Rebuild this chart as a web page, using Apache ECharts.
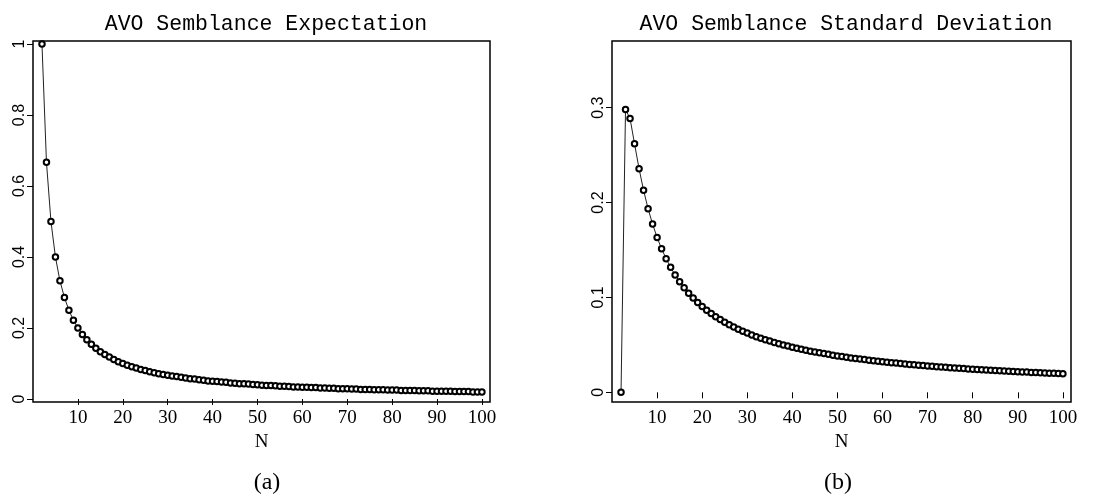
<!DOCTYPE html>
<html>
<head>
<meta charset="utf-8">
<script src="https://cdn.jsdelivr.net/npm/echarts@6/dist/echarts.min.js"></script>
<style>
html,body{margin:0;padding:0;background:#fff;}
#c{width:1109px;height:498px;}
</style>
</head>
<body>
<div id="c"></div>
<script>
// Sample sizes N
const N = [2,3,4,5,6,7,8,9,10,11,12,13,14,15,16,17,18,19,20,21,22,23,24,25,26,27,28,29,30,
31,32,33,34,35,36,37,38,39,40,41,42,43,44,45,46,47,48,49,50,51,52,53,54,55,56,57,58,59,60,
61,62,63,64,65,66,67,68,69,70,71,72,73,74,75,76,77,78,79,80,81,82,83,84,85,86,87,88,89,90,
91,92,93,94,95,96,97,98,99,100];

// AVO semblance expectation (panel a)
const expectation = [1.000,0.667,0.500,0.400,0.333,0.286,0.250,0.222,0.200,0.182,0.167,0.154,0.143,0.133,0.125,0.118,0.111,0.105,0.100,
0.095,0.091,0.087,0.083,0.080,0.077,0.074,0.071,0.069,0.067,0.065,0.063,0.061,0.059,0.057,0.056,0.054,0.053,0.051,0.050,
0.049,0.048,0.047,0.045,0.044,0.043,0.043,0.042,0.041,0.040,0.039,0.038,0.038,0.037,0.036,0.036,0.035,0.034,0.034,0.033,
0.033,0.032,0.032,0.031,0.031,0.030,0.030,0.029,0.029,0.029,0.028,0.028,0.027,0.027,0.027,0.026,0.026,0.026,0.025,0.025,
0.025,0.024,0.024,0.024,0.024,0.023,0.023,0.023,0.022,0.022,0.022,0.022,0.022,0.021,0.021,0.021,0.021,0.020,0.020,0.020];

// AVO semblance standard deviation (panel b)
const stdDev = [0.0000,0.2981,0.2887,0.2619,0.2357,0.2130,0.1936,0.1773,0.1633,0.1513,0.1409,0.1317,0.1237,0.1166,0.1102,0.1045,0.0994,0.0947,0.0905,
0.0866,0.0830,0.0797,0.0767,0.0738,0.0712,0.0688,0.0665,0.0644,0.0624,0.0605,0.0587,0.0570,0.0555,0.0540,0.0526,0.0512,0.0499,0.0487,0.0476,
0.0465,0.0454,0.0444,0.0434,0.0425,0.0416,0.0408,0.0400,0.0392,0.0384,0.0377,0.0370,0.0363,0.0357,0.0351,0.0345,0.0339,0.0333,0.0328,0.0322,
0.0317,0.0312,0.0308,0.0303,0.0298,0.0294,0.0290,0.0286,0.0282,0.0278,0.0274,0.0270,0.0267,0.0263,0.0260,0.0256,0.0253,0.0250,0.0247,0.0244,
0.0241,0.0238,0.0235,0.0232,0.0230,0.0227,0.0225,0.0222,0.0220,0.0217,0.0215,0.0213,0.0210,0.0208,0.0206,0.0204,0.0202,0.0200,0.0198,0.0196];

// Tick labels
const xTicks = [10,20,30,40,50,60,70,80,90,100];
const yTicksA = [0,0.2,0.4,0.6,0.8,1];
const yTicksB = [0,0.1,0.2,0.3];
const titles = ['AVO Semblance Expectation','AVO Semblance Standard Deviation'];
const captions = ['(a)','(b)'];
const xName = 'N';

const chart = echarts.init(document.getElementById('c'), null, {renderer:'canvas'});

const serif = 'Liberation Serif';
const sans = 'Liberation Sans';
const mono = 'Liberation Mono';

function xAxis(gi){
  return {
    type:'value', gridIndex:gi, min:0, max:101.8,
    name:xName, nameLocation:'middle', nameGap:30,
    nameTextStyle:{fontFamily:serif, fontSize:19, color:'#000'},
    axisLine:{show:false},
    axisTick:{show:true, customValues:xTicks, length:6, lineStyle:{color:'#000', width:1}},
    axisLabel:{customValues:xTicks, margin:7, fontFamily:serif, fontSize:19, color:'#000'},
    splitLine:{show:false}
  };
}
function yAxis(gi, min, max, ticks){
  return {
    type:'value', gridIndex:gi, min:min, max:max,
    axisLine:{show:false},
    axisTick:{show:true, customValues:ticks, length:6, lineStyle:{color:'#000', width:1}},
    axisLabel:{customValues:ticks, rotate:90, margin:5, fontFamily:sans, fontSize:16, color:'#000',
      formatter:function(v){return String(v);}},
    splitLine:{show:false}
  };
}
function series(gi, vals){
  return {
    type:'line', xAxisIndex:gi, yAxisIndex:gi,
    data:N.map((n,i)=>[n, vals[i]]),
    symbol:'emptyCircle', symbolSize:5.5,
    lineStyle:{color:'#222', width:1},
    itemStyle:{color:'#000', borderColor:'#000', borderWidth:1.1},
    emphasis:{disabled:true}, animation:false
  };
}

chart.setOption({
  backgroundColor:'#fff',
  animation:false,
  title:[
    {text:titles[0], left:261, top:8, textAlign:'center', textStyle:{fontFamily:mono, fontSize:21.5, fontWeight:'normal', color:'#000'}},
    {text:titles[1], left:841, top:8, textAlign:'center', textStyle:{fontFamily:mono, fontSize:21.5, fontWeight:'normal', color:'#000'}},
    {text:captions[0], left:262, top:466, textAlign:'center', textStyle:{fontFamily:serif, fontSize:24, fontWeight:'normal', color:'#000'}},
    {text:captions[1], left:833, top:466, textAlign:'center', textStyle:{fontFamily:serif, fontSize:24, fontWeight:'normal', color:'#000'}}
  ],
  grid:[
    {left:33, right:619, top:41, bottom:96, show:true, borderColor:'#000', borderWidth:1.5, backgroundColor:'transparent'},
    {left:612, right:38, top:41, bottom:96, show:true, borderColor:'#000', borderWidth:1.5, backgroundColor:'transparent'}
  ],
  xAxis:[xAxis(0), xAxis(1)],
  yAxis:[yAxis(0, -0.0085, 1.0085, yTicksA), yAxis(1, -0.0102, 0.3703, yTicksB)],
  series:[series(0, expectation), series(1, stdDev)]
});
</script>
</body>
</html>
